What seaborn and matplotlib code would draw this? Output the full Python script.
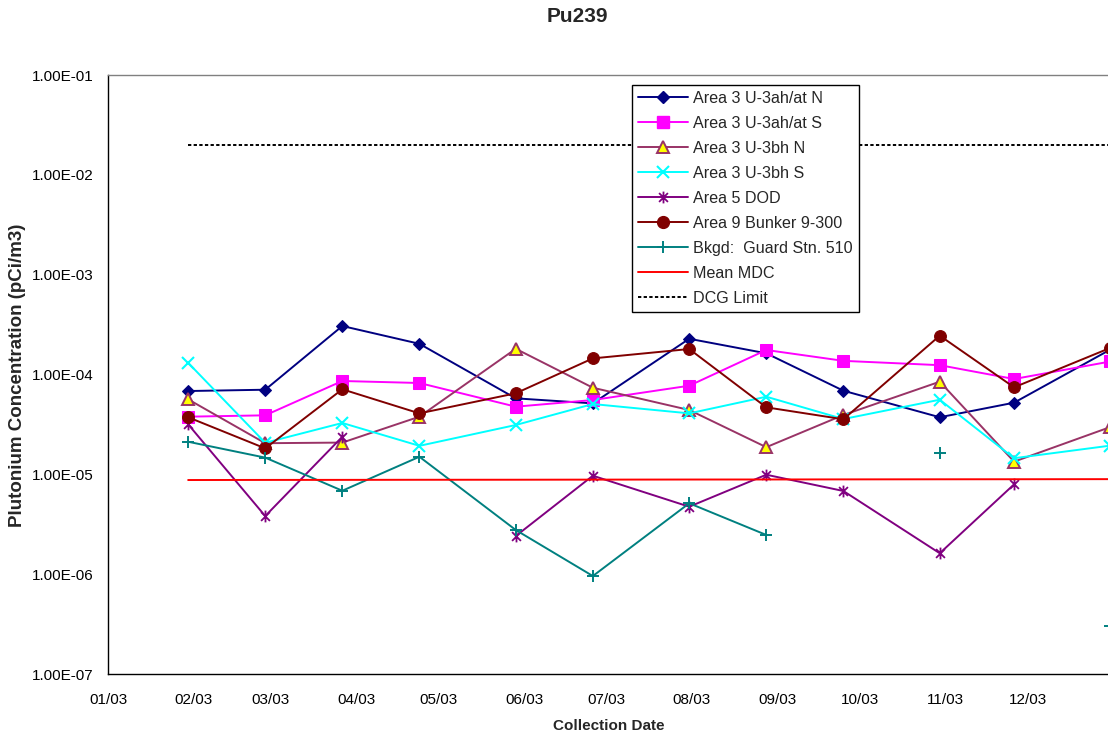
import pandas as pd
import matplotlib
matplotlib.use("Agg")
import matplotlib.pyplot as plt
from matplotlib.lines import Line2D
from matplotlib.path import Path
from matplotlib.ticker import FixedLocator, FuncFormatter, NullLocator
import seaborn as sns

# Monthly air-sampler collection dates (2003)
sample_dates = ["2003-01-30", "2003-02-27", "2003-03-27", "2003-04-24", "2003-05-29", "2003-06-26",
                "2003-07-31", "2003-08-28", "2003-09-25", "2003-10-30", "2003-11-26", "2003-12-31"]

# Pu-239 concentrations, pCi/m3 (None = no result reported)
area3_ahat_n = [6.83e-5, 7.04e-5, 3.06e-4, 2.03e-4, 5.77e-5, 5.14e-5,
                2.28e-4, 1.63e-4, 6.88e-5, 3.73e-5, 5.22e-5, 1.78e-4]
area3_ahat_s = [3.78e-5, 3.90e-5, 8.61e-5, 8.22e-5, 4.76e-5, 5.55e-5,
                7.72e-5, 1.76e-4, 1.37e-4, 1.24e-4, 9.01e-5, 1.35e-4]
area3_bh_n = [5.64e-5, 2.05e-5, 2.08e-5, 3.78e-5, 1.81e-4, 7.37e-5,
              4.41e-5, 1.87e-5, 3.93e-5, 8.47e-5, 1.34e-5, 2.98e-5]
area3_bh_s = [1.31e-4, 2.07e-5, 3.27e-5, 1.93e-5, 3.12e-5, 5.06e-5,
              4.08e-5, 5.99e-5, 3.58e-5, 5.59e-5, 1.45e-5, 1.94e-5]
area5_dod = [3.17e-5, 3.82e-6, 2.38e-5, None, 2.41e-6, 9.69e-6,
             4.74e-6, 9.91e-6, 6.81e-6, 1.62e-6, 7.94e-6, None]
area9_bunker = [3.73e-5, 1.82e-5, 7.11e-5, 4.08e-5, 6.48e-5, 1.45e-4,
                1.80e-4, 4.69e-5, 3.56e-5, 2.45e-4, 7.44e-5, 1.85e-4]
bkgd_guard_510 = [2.12e-5, 1.47e-5, 6.85e-6, 1.50e-5, 2.77e-6, 9.58e-7,
                  5.13e-6, 2.47e-6, None, 1.62e-5, None, 3.04e-7]
mean_mdc = [8.77e-6, 8.79e-6, 8.80e-6, 8.82e-6, 8.83e-6, 8.85e-6,
            8.87e-6, 8.88e-6, 8.90e-6, 8.92e-6, 8.93e-6, 8.95e-6]
dcg_limit = [2.0e-2, 2.0e-2, 2.0e-2, 2.0e-2, 2.0e-2, 2.0e-2,
             2.0e-2, 2.0e-2, 2.0e-2, 2.0e-2, 2.0e-2, 2.0e-2]

series_labels = ["Area 3 U-3ah/at N", "Area 3 U-3ah/at S", "Area 3 U-3bh N", "Area 3 U-3bh S",
                 "Area 5 DOD", "Area 9 Bunker 9-300", "Bkgd:  Guard Stn. 510", "Mean MDC", "DCG Limit"]

tick_dates = ["2003-01-01", "2003-02-01", "2003-03-01", "2003-04-01", "2003-05-01", "2003-06-01",
              "2003-07-01", "2003-08-01", "2003-09-01", "2003-10-01", "2003-11-01", "2003-12-01"]
tick_labels = ["01/03", "02/03", "03/03", "04/03", "05/03", "06/03",
               "07/03", "08/03", "09/03", "10/03", "11/03", "12/03"]
y_ticks = [1e-7, 1e-6, 1e-5, 1e-4, 1e-3, 1e-2, 1e-1]

sns.set_style("white")
plt.rcParams["font.family"] = ["Liberation Sans", "DejaVu Sans"]

# asterisk marker: vertical bar plus an X
star = Path([(0, -1), (0, 1), (-0.75, -0.75), (0.75, 0.75), (-0.75, 0.75), (0.75, -0.75)],
            [Path.MOVETO, Path.LINETO, Path.MOVETO, Path.LINETO, Path.MOVETO, Path.LINETO])

styles = [
    dict(color="#000080", marker="D", markersize=6.5, markerfacecolor="#000080", markeredgecolor="#000080"),
    dict(color="#FF00FF", marker="s", markersize=8, markerfacecolor="#FF00FF", markeredgecolor="#FF00FF"),
    dict(color="#993366", marker="^", markersize=8.5, markerfacecolor="#FFFF00", markeredgecolor="#993366",
         markeredgewidth=1.4),
    dict(color="#00FFFF", marker="x", markersize=8, markeredgecolor="#00FFFF", markeredgewidth=1.5),
    dict(color="#800080", marker=star, markersize=8.5, markeredgecolor="#800080", markeredgewidth=1.3),
    dict(color="#800000", marker="o", markersize=8.5, markerfacecolor="#800000", markeredgecolor="#800000"),
    dict(color="#008080", marker="+", markersize=9, markeredgecolor="#008080", markeredgewidth=1.4),
    dict(color="#FF0000", linewidth=1.4),
    dict(color="black", linewidth=1.4, linestyle=(0, (1.7, 1.2))),
]

dates = pd.to_datetime(sample_dates)
all_series = [area3_ahat_n, area3_ahat_s, area3_bh_n, area3_bh_s, area5_dod,
              area9_bunker, bkgd_guard_510, mean_mdc, dcg_limit]

fig = plt.figure(figsize=(11.08, 7.40), dpi=100)
ax_left, ax_right, ax_top, ax_bottom = 108.3, 1113.2, 75.0, 674.0
ax = fig.add_axes([ax_left / 1108, 1 - ax_bottom / 740,
                   (ax_right - ax_left) / 1108, (ax_bottom - ax_top) / 740])

for values, style in zip(all_series, styles):
    df = pd.DataFrame({"date": dates, "value": pd.to_numeric(pd.Series(values), errors="coerce")})
    # break the line wherever a month has no result
    df["seg"] = df["value"].isna().cumsum()
    df = df.dropna()
    kw = dict(style)
    kw.setdefault("linewidth", 1.4)
    if "marker" not in kw:
        kw["marker"] = None
    sns.lineplot(data=df, x="date", y="value", units="seg", estimator=None,
                 ax=ax, legend=False, **kw)

ax.set_yscale("log")
ax.set_ylim(1e-7, 1e-1)
ax.set_xlim(pd.Timestamp("2003-01-01"), pd.Timestamp("2004-01-01"))
ax.yaxis.set_major_locator(FixedLocator(y_ticks))
ax.yaxis.set_minor_locator(NullLocator())
ax.yaxis.set_major_formatter(FuncFormatter(lambda v, p: f"{v:.2E}"))
ax.set_xticks(pd.to_datetime(tick_dates))
ax.set_xticklabels(tick_labels)
ax.xaxis.set_minor_locator(NullLocator())
ax.tick_params(axis="both", which="major", direction="out", length=4, width=1,
               color="black", labelsize=11, labelcolor="black")
ax.tick_params(axis="y", pad=6.5)
ax.tick_params(axis="x", pad=10)
ax.set_xlabel("")
ax.set_ylabel("")

for side in ["left", "bottom"]:
    ax.spines[side].set_color("black")
    ax.spines[side].set_linewidth(1.0)
for side in ["top", "right"]:
    ax.spines[side].set_color("#808080")
    ax.spines[side].set_linewidth(1.0)

handles = []
for label, style in zip(series_labels, styles):
    kw = dict(style)
    kw.setdefault("linewidth", 1.4)
    handles.append(Line2D([], [], label=label, **kw))

leg = fig.legend(handles=handles, loc="upper left",
                 bbox_to_anchor=(632 / 1108, 1 - 85 / 740),
                 fontsize=11.6, frameon=True, fancybox=False, framealpha=1,
                 edgecolor="black", facecolor="white",
                 handlelength=3.1, handletextpad=0.3, labelspacing=0.62,
                 borderpad=0.38, borderaxespad=0)
leg.get_frame().set_linewidth(1.0)

fig.text(577 / 1108, 1 - 17 / 740, "Pu239", ha="center", va="center",
         fontsize=15, fontweight="bold")
fig.text(609 / 1108, 1 - 726 / 740, "Collection Date", ha="center", va="center",
         fontsize=11, fontweight="bold")
fig.text(18 / 1108, 1 - 375 / 740, "Plutonium Concentration (pCi/m3)", ha="center", va="center",
         rotation=90, fontsize=13.5, fontweight="bold")

fig.savefig("out.png", dpi=100, facecolor="white")
